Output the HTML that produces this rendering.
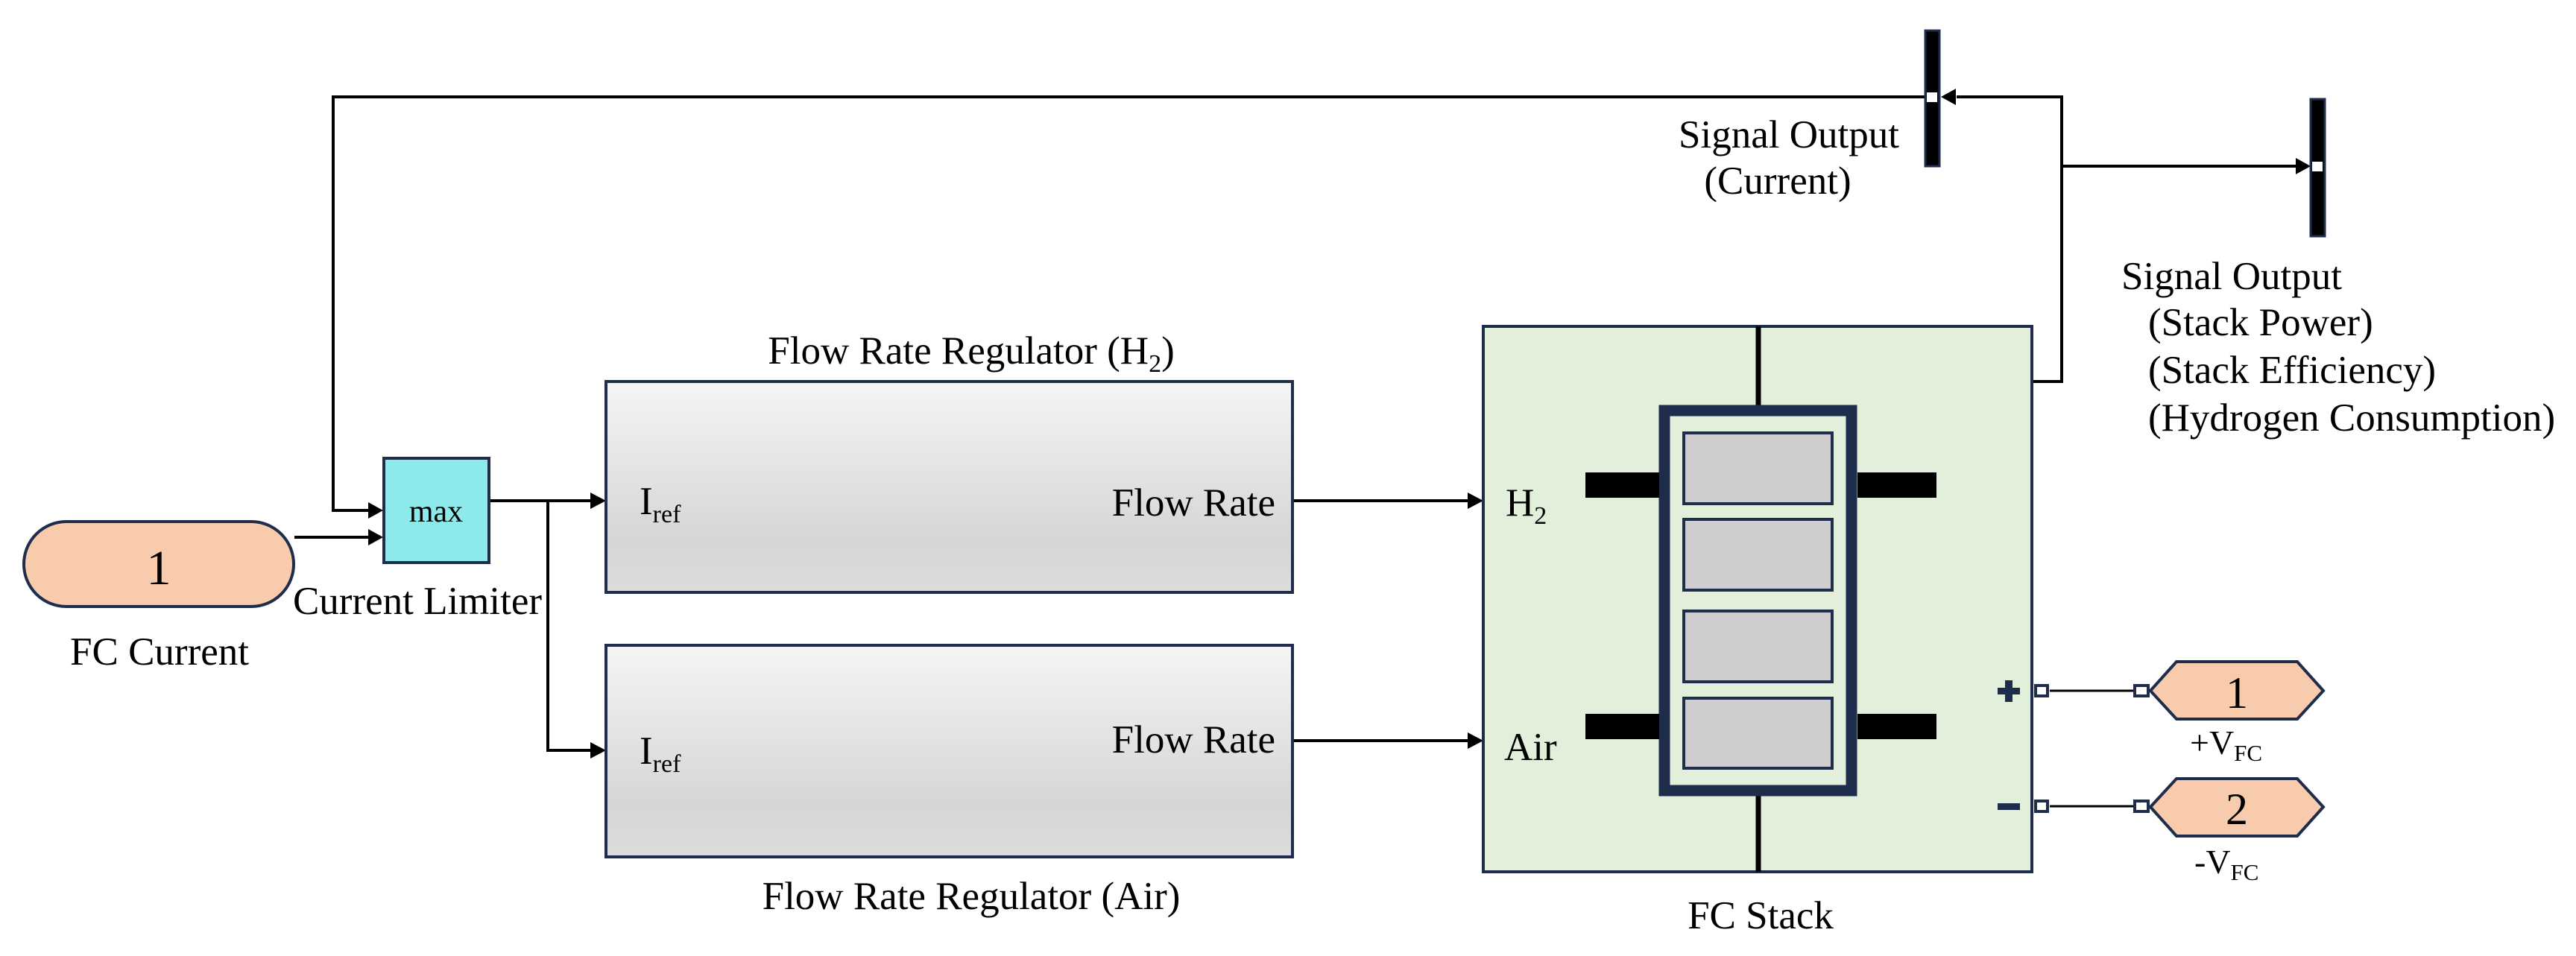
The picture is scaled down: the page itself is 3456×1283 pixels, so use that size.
<!DOCTYPE html>
<html><head><meta charset="utf-8"><style>html,body{margin:0;padding:0;background:#fff}svg{display:block}text{font-family:"Liberation Serif",serif;fill:#000}</style></head>
<body>
<svg width="3456" height="1283" viewBox="0 0 3456 1283" xmlns="http://www.w3.org/2000/svg">
<defs>
<linearGradient id="g" x1="0" y1="0" x2="0" y2="1"><stop offset="0" stop-color="#f5f5f5"/><stop offset="0.75" stop-color="#d6d6d6"/><stop offset="1" stop-color="#dcdcdc"/></linearGradient>
</defs>
<g stroke="#000" stroke-width="4" fill="none">
<polyline points="2582,130 447,130 447,685 495,685"/>
<line x1="395" y1="721" x2="495" y2="721"/>
<line x1="657" y1="672" x2="792" y2="672"/>
<polyline points="735,672 735,1007 792,1007"/>
<line x1="1734" y1="672" x2="1970" y2="672"/>
<line x1="1734" y1="994" x2="1970" y2="994"/>
<polyline points="2726,512 2766,512 2766,130 2625,130"/>
<line x1="2766" y1="223" x2="3080" y2="223"/>
<line x1="2750" y1="927" x2="2862" y2="927" stroke-width="3"/>
<line x1="2750" y1="1082" x2="2862" y2="1082" stroke-width="3"/>
</g>
<g fill="#000">
<polygon points="514,685 494,674 494,696"/>
<polygon points="514,721 494,710 494,732"/>
<polygon points="813,672 792,661 792,683"/>
<polygon points="813,1007 792,996 792,1018"/>
<polygon points="1990,672 1969,661 1969,683"/>
<polygon points="1990,994 1969,983 1969,1005"/>
<polygon points="2604,130 2624,119 2624,141"/>
<polygon points="3100,223 3080,212 3080,234"/>
</g>
<rect x="32" y="700" width="362" height="114" rx="57" ry="57" fill="#f8cbad" stroke="#1f2d4d" stroke-width="4"/>
<text x="213" y="784" font-size="66" text-anchor="middle">1</text>
<text x="214" y="892" font-size="53" text-anchor="middle">FC Current</text>
<rect x="515" y="615" width="141" height="140" fill="#8eeaea" stroke="#1f2d4d" stroke-width="4"/>
<text x="585" y="700" font-size="42" text-anchor="middle">max</text>
<text x="560" y="824" font-size="53" text-anchor="middle">Current Limiter</text>
<rect x="813" y="512" width="921" height="283" fill="url(#g)" stroke="#1f2d4d" stroke-width="4"/>
<rect x="813" y="866" width="921" height="284" fill="url(#g)" stroke="#1f2d4d" stroke-width="4"/>
<text x="1303" y="488" font-size="53" text-anchor="middle">Flow Rate Regulator (H<tspan font-size="34" dy="11">2</tspan><tspan dy="-11">)</tspan></text>
<text x="1303" y="1220" font-size="53" text-anchor="middle">Flow Rate Regulator (Air)</text>
<text x="858" y="690" font-size="53">I<tspan font-size="34" dy="11">ref</tspan></text>
<text x="858" y="1025" font-size="53">I<tspan font-size="34" dy="11">ref</tspan></text>
<text x="1711" y="692" font-size="53" text-anchor="end">Flow Rate</text>
<text x="1711" y="1010" font-size="53" text-anchor="end">Flow Rate</text>
<rect x="1990" y="438" width="736" height="732" fill="#e2efda" stroke="#1f2d4d" stroke-width="4"/>
<line x1="2359" y1="438" x2="2359" y2="546" stroke="#000" stroke-width="7"/>
<line x1="2359" y1="1066" x2="2359" y2="1170" stroke="#000" stroke-width="7"/>
<rect x="2233" y="551" width="251" height="510" fill="#e2efda" stroke="#1f2d4d" stroke-width="15"/>
<g fill="#d0cdd0" stroke="#1f2d4d" stroke-width="4">
<rect x="2259" y="581" width="199" height="95"/>
<rect x="2259" y="697" width="199" height="95"/>
<rect x="2259" y="820" width="199" height="95"/>
<rect x="2259" y="937" width="199" height="94"/>
</g>
<g fill="#000">
<rect x="2127" y="634" width="99" height="34"/>
<rect x="2492" y="634" width="106" height="34"/>
<rect x="2127" y="958" width="99" height="34"/>
<rect x="2492" y="958" width="106" height="34"/>
</g>
<text x="2020" y="692" font-size="53">H<tspan font-size="34" dy="11">2</tspan></text>
<text x="2018" y="1020" font-size="53">Air</text>
<text x="2362" y="1246" font-size="53" text-anchor="middle">FC Stack</text>
<g fill="#1f2d4d">
<rect x="2680" y="923" width="30" height="9"/><rect x="2690" y="913" width="10" height="29"/>
<rect x="2680" y="1078" width="30" height="9"/>
</g>
<g fill="#fff" stroke="#1f2d4d" stroke-width="4">
<rect x="2731" y="920" width="16" height="14"/>
<rect x="2731" y="1075" width="16" height="14"/>
<rect x="2864" y="920" width="18" height="14"/>
<rect x="2864" y="1075" width="18" height="14"/>
</g>
<polygon points="2885,927 2920,888 3082,888 3117,927 3082,965 2920,965" fill="#f8cbad" stroke="#1f2d4d" stroke-width="4"/>
<polygon points="2885,1083 2920,1045 3082,1045 3117,1083 3082,1122 2920,1122" fill="#f8cbad" stroke="#1f2d4d" stroke-width="4"/>
<text x="3001" y="950" font-size="60" text-anchor="middle">1</text>
<text x="3001" y="1106" font-size="60" text-anchor="middle">2</text>
<text x="2938" y="1012" font-size="46">+V<tspan font-size="31" dy="9">FC</tspan></text>
<text x="2944" y="1172" font-size="46">-V<tspan font-size="31" dy="9">FC</tspan></text>
<rect x="2583" y="41" width="19" height="182" fill="#000" stroke="#1f2d4d" stroke-width="3"/>
<rect x="2585" y="124" width="14" height="13" fill="#fff"/>
<rect x="3100" y="133" width="19" height="184" fill="#000" stroke="#1f2d4d" stroke-width="3"/>
<rect x="3102" y="217" width="14" height="13" fill="#fff"/>
<text x="2400" y="198" font-size="53" text-anchor="middle">Signal Output</text>
<text x="2385" y="260" font-size="53" text-anchor="middle">(Current)</text>
<text x="2846" y="388" font-size="53">Signal Output</text>
<text x="2882" y="450" font-size="53">(Stack Power)</text>
<text x="2882" y="514" font-size="53">(Stack Efficiency)</text>
<text x="2882" y="578" font-size="53">(Hydrogen Consumption)</text>
</svg>
</body></html>
